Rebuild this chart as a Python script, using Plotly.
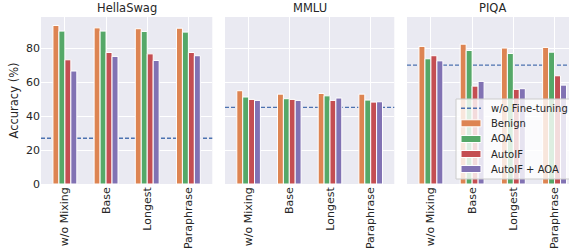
import plotly.graph_objects as go

# ---- data ----
benchmarks = ["HellaSwag", "MMLU", "PIQA"]
categories = ["w/o Mixing", "Base", "Longest", "Paraphrase"]
series_names = ["Benign", "AOA", "AutoIF", "AutoIF + AOA"]
baseline_name = "w/o Fine-tuning"

hellaswag = {
    "Benign": [93.3, 91.9, 91.4, 91.7],
    "AOA": [90.0, 90.0, 89.8, 89.4],
    "AutoIF": [73.1, 77.4, 76.6, 77.4],
    "AutoIF + AOA": [66.5, 75.1, 72.7, 75.5],
}
mmlu = {
    "Benign": [54.9, 52.9, 53.3, 52.9],
    "AOA": [51.2, 50.2, 51.9, 49.4],
    "AutoIF": [49.8, 49.8, 49.2, 48.2],
    "AutoIF + AOA": [49.2, 49.2, 50.6, 48.4],
}
piqa = {
    "Benign": [81.0, 82.3, 80.0, 80.4],
    "AOA": [73.7, 78.6, 76.8, 77.6],
    "AutoIF": [75.5, 57.6, 55.7, 63.7],
    "AutoIF + AOA": [72.5, 60.4, 56.1, 58.2],
}
baseline = [26.9, 45.1, 70.0]  # w/o Fine-tuning
yticks = [0, 20, 40, 60, 80]

colors = {
    "Benign": "#DD8452",
    "AOA": "#55A868",
    "AutoIF": "#C44E52",
    "AutoIF + AOA": "#8172B3",
}
line_color = "#4C72B0"
text_color = "#262626"
FONT = "DejaVu Sans"
DASH = "4px,2px"

data = [hellaswag, mmlu, piqa]

fig = go.Figure()

xpos = list(range(len(categories)))
for i, d in enumerate(data):
    ax = "" if i == 0 else str(i + 1)
    for s in series_names:
        fig.add_trace(go.Bar(
            x=xpos, y=d[s], name=s,
            marker=dict(color=colors[s], line=dict(color="white", width=1)),
            xaxis="x" + ax, yaxis="y" + ax,
            showlegend=False,
        ))

# domains in pixels (plot area left = 41, width = 528)
domains = [[0.0, 0.3244], [0.3485, 0.6691], [0.6932, 1.0]]
xranges = [[-0.58, 3.58], [-0.58, 3.58], [-0.58, 3.35]]
yrange = [0, 98.3]

layout = dict(
    width=569, height=250,
    margin=dict(l=41, r=0, t=17, b=66),
    paper_bgcolor="white",
    plot_bgcolor="#EAEAF2",
    barmode="group",
    bargap=0.42,
    bargroupgap=0.0,
    font=dict(family=FONT, size=11, color=text_color),
    showlegend=False,
)

shapes = []
annotations = []
for i in range(3):
    ax = "" if i == 0 else str(i + 1)
    layout["xaxis" + ax] = dict(
        domain=domains[i], range=xranges[i], anchor="y" + ax,
        tickmode="array", tickvals=xpos, ticktext=categories,
        tickangle=-90, showgrid=True, gridcolor="white", gridwidth=1,
        zeroline=False, showline=False, ticks="", automargin=False,
        tickfont=dict(family=FONT, size=11, color=text_color),
    )
    layout["yaxis" + ax] = dict(
        range=yrange, anchor="x" + ax,
        tickmode="array", tickvals=yticks,
        showticklabels=(i == 0),
        showgrid=True, gridcolor="white", gridwidth=1,
        zeroline=False, showline=False, ticks="", automargin=False,
        tickfont=dict(family=FONT, size=11, color=text_color),
    )
    shapes.append(dict(
        type="line", xref="x" + ax + " domain", yref="y" + ax,
        x0=0, x1=1, y0=baseline[i], y1=baseline[i],
        line=dict(color=line_color, width=1.4, dash=DASH),
        layer="below",
    ))
    cx = sum(domains[i]) / 2 if i < 2 else (domains[i][0] + 0.3244 / 2)
    annotations.append(dict(
        text=benchmarks[i], xref="paper", yref="paper",
        x=cx, y=1.0, xanchor="center", yanchor="bottom", yshift=0,
        showarrow=False, font=dict(family=FONT, size=11.5, color=text_color),
    ))

# y-axis title
annotations.append(dict(
    text="Accuracy (%)", xref="paper", yref="paper", x=0, y=0.5,
    xanchor="center", yanchor="middle", xshift=-28, textangle=-90,
    showarrow=False, font=dict(family=FONT, size=11.5, color=text_color),
))

# ---- legend (drawn in paper coordinates) ----
legend_labels = [baseline_name] + series_names
row_y = [0.4533, 0.3635, 0.2695, 0.1796, 0.0898]
lx0, lx1, ltx = 0.7955, 0.8333, 0.8485
shapes.append(dict(
    type="rect", xref="paper", yref="paper", x0=0.786, x1=1.03, y0=0.030, y1=0.509,
    fillcolor="rgba(255,255,255,0.8)", line=dict(color="#CCCCCC", width=1),
    layer="above",
))
for k, lab in enumerate(legend_labels):
    if k == 0:
        shapes.append(dict(
            type="line", xref="paper", yref="paper", x0=lx0, x1=lx1,
            y0=row_y[k], y1=row_y[k],
            line=dict(color=line_color, width=1.4, dash=DASH), layer="above",
        ))
    else:
        shapes.append(dict(
            type="rect", xref="paper", yref="paper", x0=lx0, x1=lx1,
            y0=row_y[k] - 0.021, y1=row_y[k] + 0.021,
            fillcolor=colors[lab], line=dict(color="white", width=1), layer="above",
        ))
    annotations.append(dict(
        text=lab, xref="paper", yref="paper", x=ltx, y=row_y[k],
        xanchor="left", yanchor="middle", showarrow=False,
        font=dict(family=FONT, size=10, color=text_color),
    ))

layout["shapes"] = shapes
layout["annotations"] = annotations
fig.update_layout(**layout)

fig.write_html(
    "out.html",
    config={"displayModeBar": False, "staticPlot": True},
    post_script="document.body.style.margin='0';document.body.style.padding='0';"
                "document.body.style.overflow='hidden';",
)
